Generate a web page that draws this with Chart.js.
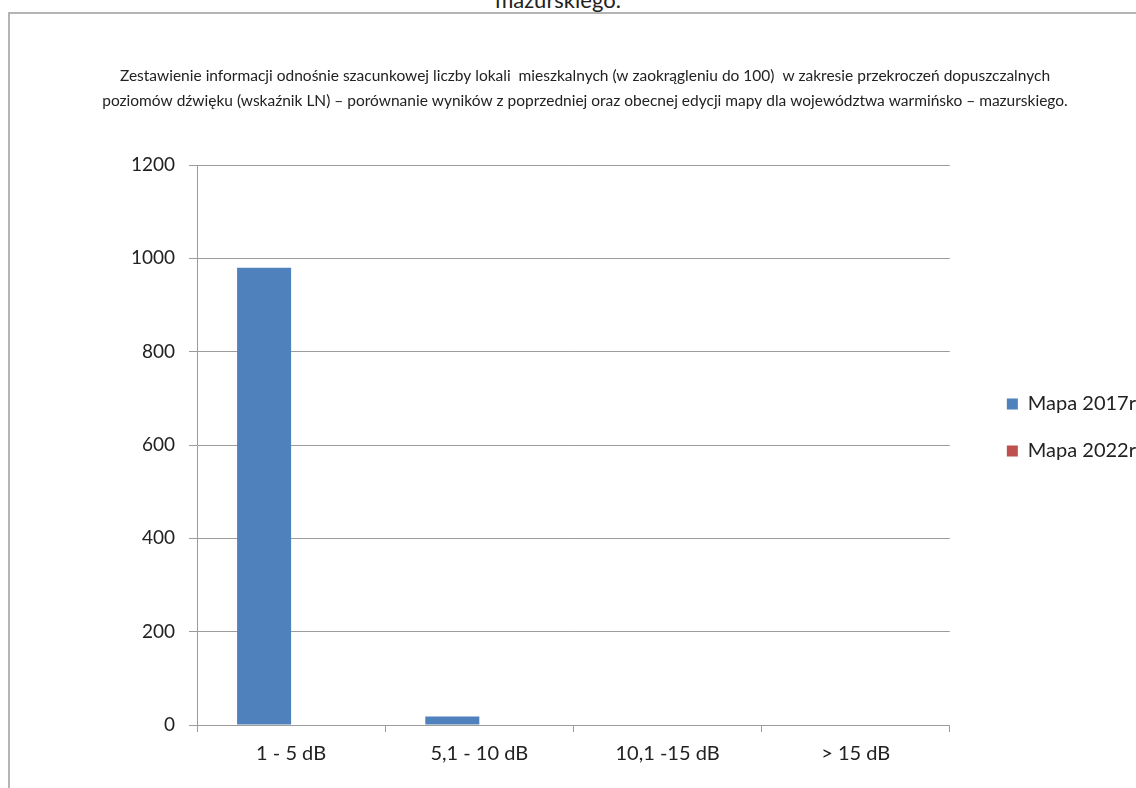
<!DOCTYPE html>
<html>
<head>
<meta charset="utf-8">
<script src="https://cdn.jsdelivr.net/npm/chart.js@4"></script>
<style>
  html, body { margin: 0; padding: 0; background: #fff; overflow: hidden; width: 1136px; height: 788px; }
  #frame { position: absolute; left: 8px; top: 12px; width: 2000px; height: 2000px;
           border-left: 2px solid #b4b4b4; border-top: 2px solid #b4b4b4; }
  #cut { position: absolute; left: 0; width: 1116px; top: -14px; text-align: center;
         font-family: Lato, sans-serif; font-size: 22px; color: #222; line-height: 28px; }
  #wrap { position: absolute; left: 0; top: 0; }
</style>
</head>
<body>
<div id="cut">mazurskiego.</div>
<div id="frame"></div>
<div id="wrap"><canvas id="c" width="1146" height="855" style="width:1146px;height:855px"></canvas></div>
<script>
const categories = ['1 - 5 dB', '5,1 - 10 dB', '10,1 -15 dB', '> 15 dB'];
const seriesNames = ['Mapa 2017r', 'Mapa 2022r'];
const mapa2017 = [980, 18, 0, 0];
const mapa2022 = [0, 0, 0, 0];
const seriesColors = ['#4f81bd', '#c0504d'];
const yMin = 0, yMax = 1200, yStep = 200;
const titleLines = [
  'Zestawienie informacji odnośnie szacunkowej liczby lokali  mieszkalnych (w zaokrągleniu do 100)  w zakresie przekroczeń dopuszczalnych',
  'poziomów dźwięku (wskaźnik LN) – porównanie wyników z poprzedniej oraz obecnej edycji mapy dla województwa warmińsko – mazurskiego.'
];

const gridColor = '#9c9c9c';
const textColor = '#222222';

new Chart(document.getElementById('c'), {
  type: 'bar',
  data: {
    labels: categories,
    datasets: [
      { label: seriesNames[0], data: mapa2017, backgroundColor: seriesColors[0], borderWidth: 0,
        categoryPercentage: 0.574, barPercentage: 1.0 },
      { label: seriesNames[1], data: mapa2022, backgroundColor: seriesColors[1], borderWidth: 0,
        categoryPercentage: 0.574, barPercentage: 1.0 }
    ]
  },
  options: {
    responsive: false,
    animation: false,
    devicePixelRatio: 1,
    layout: { padding: { left: 24, right: 0, top: 0, bottom: 0 } },
    plugins: {
      tooltip: { enabled: false },
      title: {
        display: true,
        text: titleLines,
        color: textColor,
        font: { family: 'Lato', size: 15.5, lineHeight: '25px', weight: 'normal' },
        padding: { top: 63, bottom: 52 }
      },
      legend: {
        position: 'right',
        align: 'center',
        labels: {
          boxWidth: 11, boxHeight: 11, padding: 27,
          color: textColor,
          font: { family: 'Lato', size: 20 }
        }
      }
    },
    scales: {
      x: {
        offset: true,
        grid: { display: true, drawOnChartArea: false, drawTicks: true, tickLength: 7, color: gridColor, offset: true },
        border: { display: true, color: gridColor, width: 1 },
        ticks: { color: textColor, font: { family: 'Lato', size: 20 }, padding: 10, maxRotation: 0 },
        afterFit: s => { s.height = 130; }
      },
      y: {
        min: yMin, max: yMax,
        grid: { color: gridColor, tickLength: 8, drawTicks: true },
        border: { display: true, color: gridColor, width: 1 },
        ticks: { stepSize: yStep, color: textColor, font: { family: 'Lato', size: 19 }, padding: 14,
                 callback: v => String(v) },
        afterFit: s => { s.width = 173; }
      },
      gap: {
        type: 'linear', position: 'right', display: true,
        grid: { display: false, drawTicks: false }, border: { display: false },
        ticks: { display: false },
        afterFit: s => { s.width = 30; }
      }
    }
  }
});
</script>
</body>
</html>
